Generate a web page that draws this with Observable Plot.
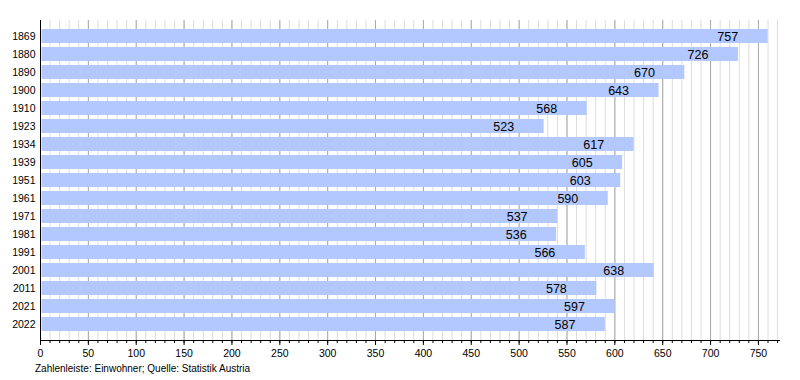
<!DOCTYPE html>
<html><head><meta charset="utf-8">
<script src="https://cdn.jsdelivr.net/npm/d3@7"></script>
<script src="https://cdn.jsdelivr.net/npm/@observablehq/plot@0.6"></script>
<style>
body{margin:0;background:#fff;font-family:"Liberation Sans",Arial,sans-serif;}
#cap{font-size:10px;line-height:12px;color:#000;margin:1px 0 0 35px;}
</style></head><body>
<div id="chart"></div>
<div id="cap">Zahlenleiste: Einwohner; Quelle: Statistik Austria</div>
<script>
const years = ["1869","1880","1890","1900","1910","1923","1934","1939","1951","1961","1971","1981","1991","2001","2011","2021","2022"];
const population = [757,726,670,643,568,523,617,605,603,590,537,536,566,638,578,597,587];
const majorTicks = d3.range(0, 751, 50);
const minorTicks = d3.range(0, 771, 10);
const data = years.map((y,i)=>({year:y, value:population[i]}));

const chart = Plot.plot({
  width: 800, height: 362,
  marginLeft: 40, marginRight: 21, marginTop: 20, marginBottom: 22,
  style: {fontFamily: '"Liberation Sans",Arial,sans-serif', fontSize: "10px", color: "#000", display: "block"},
  x: {domain: [0, 772]},
  y: {domain: years, padding: 0.2, label: null},
  marks: [
    Plot.gridX(minorTicks, {stroke: "#dcdcdc", strokeOpacity: 1}),
    Plot.gridX(majorTicks, {stroke: "#a8a8a8", strokeOpacity: 1}),
    Plot.barX(data, {x: "value", y: "year", fill: "#b3c8fe", insetLeft: 1.5, insetRight: -3}),
    Plot.text(data, {x: "value", y: "year", text: d => String(d.value), textAnchor: "end", dx: -27, fontSize: 12.5, fill: "#000"}),
    Plot.axisX(minorTicks, {tickSize: 3, text: null, label: null, stroke: "#000"}),
    Plot.axisX(majorTicks, {tickSize: 5, label: null, stroke: "#000", tickPadding: 4, fontSize: 10.5}),
    Plot.axisY({tickSize: 0, label: null, tickPadding: 5, fontSize: 10.5}),
    Plot.frame({anchor: "bottom", stroke: "#000"}),
    Plot.ruleX([0], {stroke: "#000"})
  ]
});
document.getElementById("chart").appendChild(chart);
</script></body></html>
